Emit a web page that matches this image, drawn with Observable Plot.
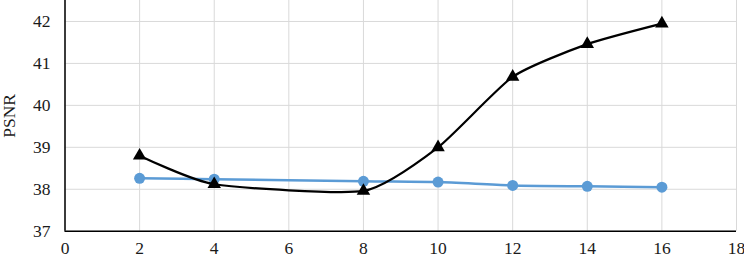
<!DOCTYPE html>
<html>
<head>
<meta charset="utf-8">
<script src="https://cdn.jsdelivr.net/npm/d3@7"></script>
<script src="https://cdn.jsdelivr.net/npm/@observablehq/plot@0.6"></script>
<style>
  html, body { margin: 0; padding: 0; background: #fff; }
  #chart svg { display: block; }
  #chart svg text { font-family: "Times New Roman", "Liberation Serif", "DejaVu Serif", serif !important; }
</style>
</head>
<body>
<div id="chart"></div>
<script>
const xs = [2, 4, 8, 10, 12, 14, 16];
const blackSeries = [38.8, 38.12, 37.96, 39.0, 40.68, 41.46, 41.95];
const blueSeries = [38.26, 38.24, 38.19, 38.17, 38.09, 38.07, 38.05];
const xTicks = [0, 2, 4, 6, 8, 10, 12, 14, 16, 18];
const yTicks = [37, 38, 39, 40, 41, 42];
const yLabel = "PSNR";

const black = xs.map((x, i) => ({x, y: blackSeries[i]}));
const blue = xs.map((x, i) => ({x, y: blueSeries[i]}));

const chart = Plot.plot({
  width: 744,
  height: 257,
  marginLeft: 64.5,
  marginRight: 8,
  marginTop: 0,
  marginBottom: 26.3,
  style: {fontFamily: "'Times New Roman', 'Liberation Serif', serif", fontSize: "17.5px", color: "#1a1a1a", background: "#fff"},
  x: {domain: [0, 18]},
  y: {domain: [37, 42.5]},
  marks: [
    Plot.gridX(xTicks, {stroke: "#d9d9d9", strokeOpacity: 1, strokeWidth: 1}),
    Plot.gridY(yTicks, {stroke: "#d9d9d9", strokeOpacity: 1, strokeWidth: 1}),
    Plot.axisX(xTicks, {tickSize: 0, tickPadding: 10.5, label: null, fontSize: 17.5}),
    Plot.axisY(yTicks, {tickSize: 0, tickPadding: 14.5, label: yLabel, labelAnchor: "center", labelArrow: "none", labelOffset: 62.5, fontSize: 17.5}),
    Plot.ruleX([0], {stroke: "#000", strokeWidth: 1.5}),
    Plot.ruleY([37], {stroke: "#000", strokeWidth: 1.5}),
    Plot.line(blue, {x: "x", y: "y", stroke: "#5B9BD5", strokeWidth: 2.5, curve: "cardinal", tension: 0.4}),
    Plot.dot(blue, {x: "x", y: "y", fill: "#5B9BD5", r: 5.5, symbol: "circle"}),
    Plot.line(black, {x: "x", y: "y", stroke: "#000", strokeWidth: 2.2, curve: "cardinal", tension: 0.4}),
    Plot.dot(black, {x: "x", y: "y", fill: "#000", r: 5, symbol: "triangle"})
  ]
});
document.getElementById("chart").appendChild(chart);
</script>
</body>
</html>
